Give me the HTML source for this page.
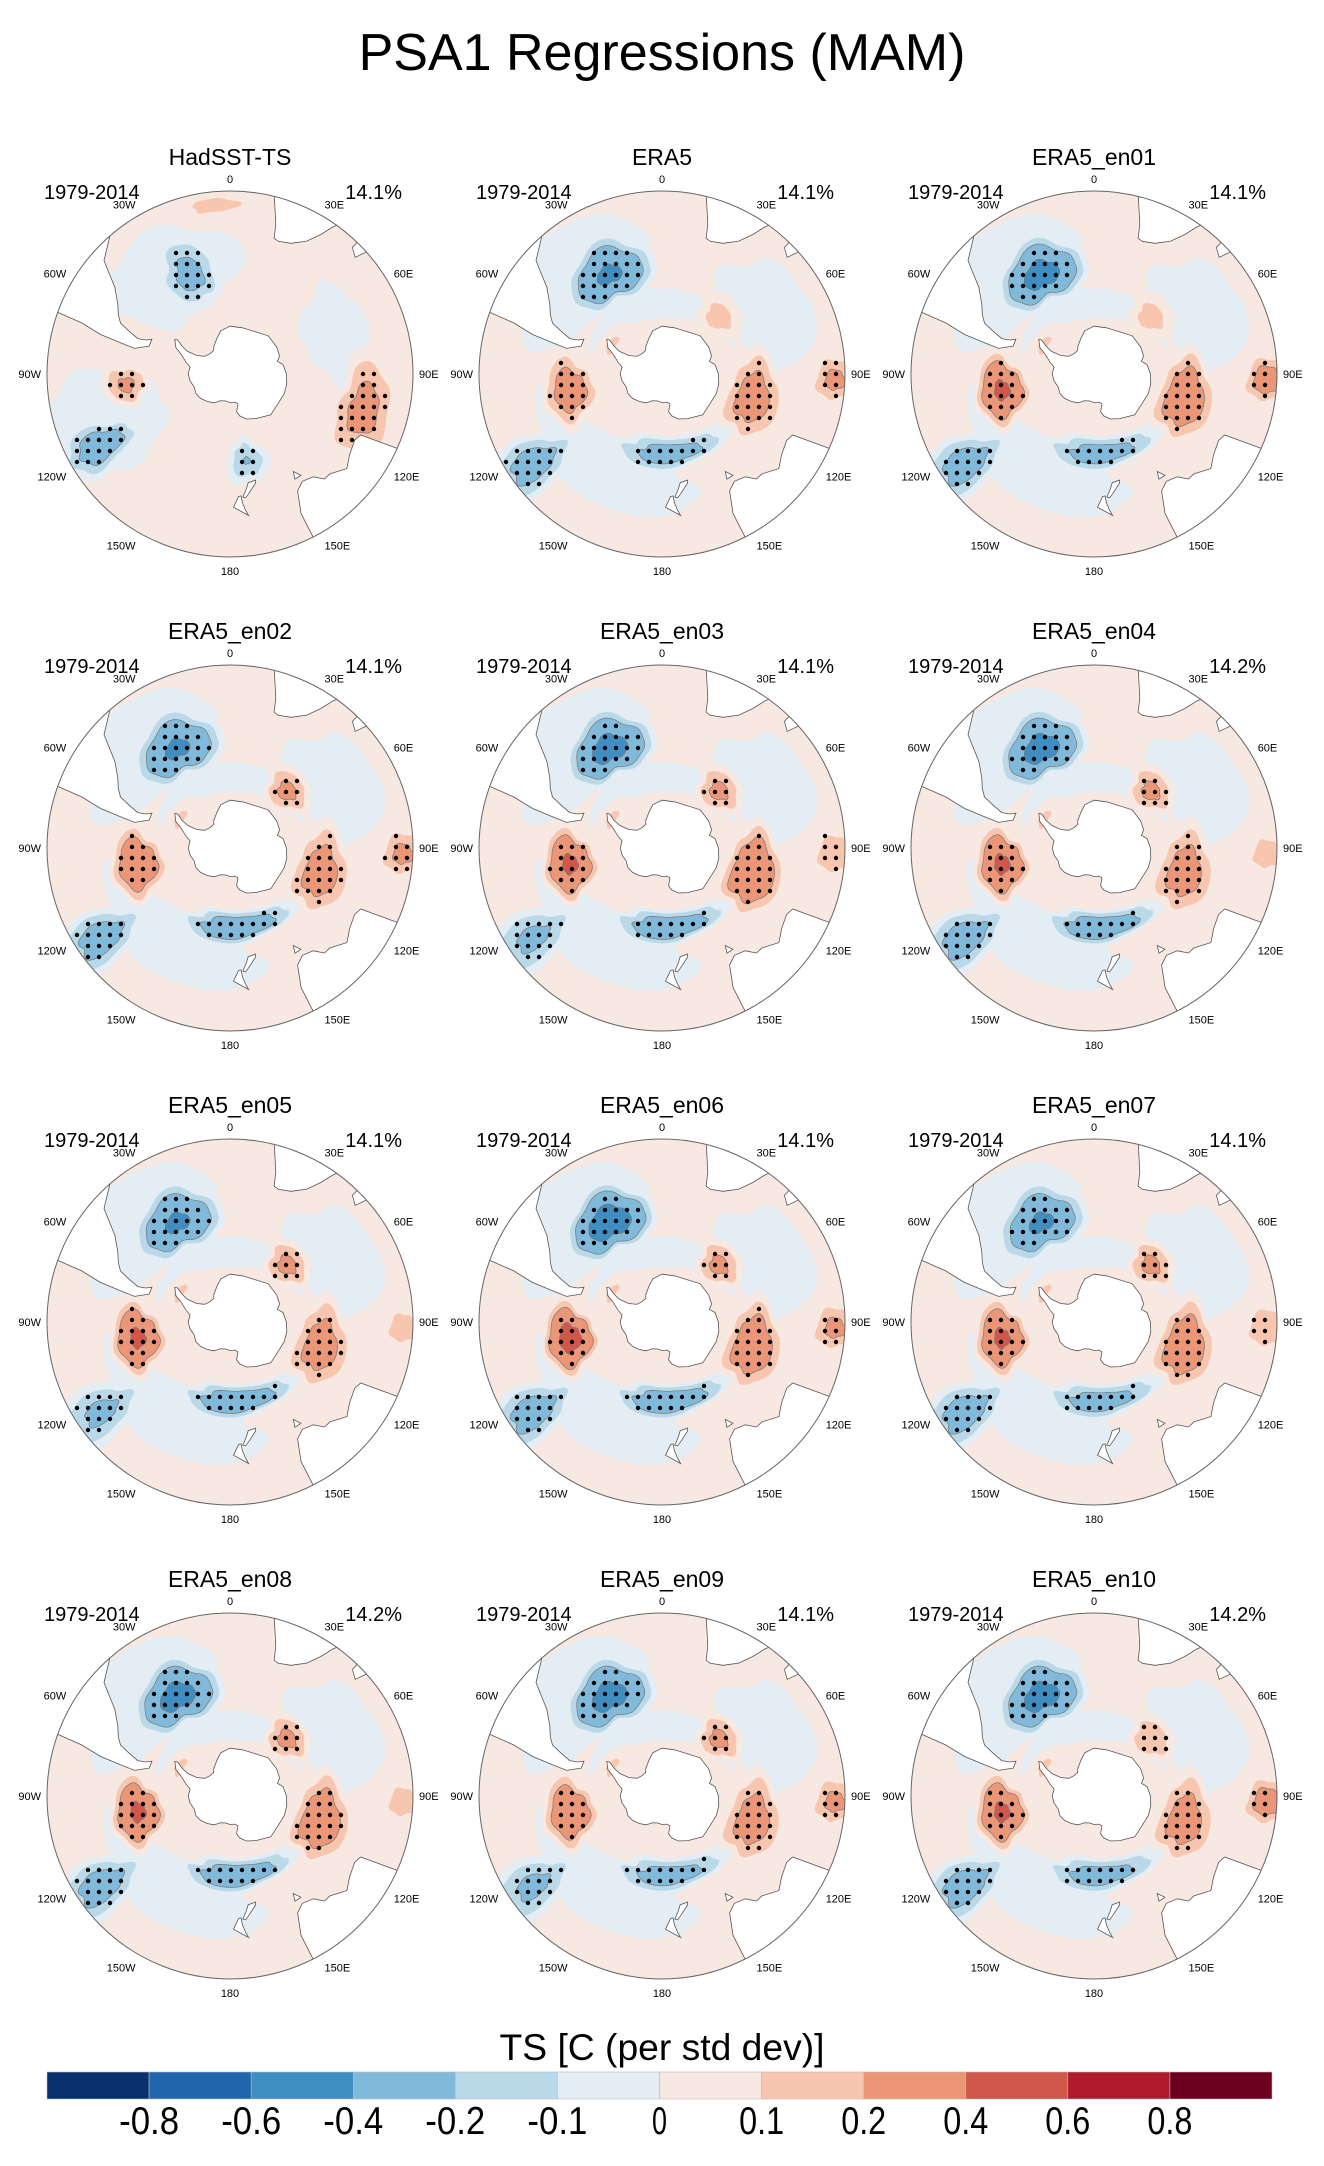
<!DOCTYPE html>
<html><head><meta charset="utf-8">
<style>
html,body{margin:0;padding:0;background:#fff;}
svg{display:block;font-family:"Liberation Sans",sans-serif;}
</style></head>
<body>
<svg id="fig" width="1324" height="2166" viewBox="0 0 1324 2166" xmlns="http://www.w3.org/2000/svg">
<text x="662" y="70" font-size="52" text-anchor="middle">PSA1 Regressions (MAM)</text>
<g id="panels"></g>
<g id="cbar"></g>
</svg>
<script>
// ---- data ----
const panelTitles = ["HadSST-TS","ERA5","ERA5_en01","ERA5_en02","ERA5_en03","ERA5_en04","ERA5_en05","ERA5_en06","ERA5_en07","ERA5_en08","ERA5_en09","ERA5_en10"];
const panelPeriods = ["1979-2014","1979-2014","1979-2014","1979-2014","1979-2014","1979-2014","1979-2014","1979-2014","1979-2014","1979-2014","1979-2014","1979-2014"];
const panelPercents = ["14.1%","14.1%","14.1%","14.1%","14.1%","14.2%","14.1%","14.1%","14.1%","14.2%","14.1%","14.2%"];
// HadSST anomaly features: lon, lat, lon-radius(deg), lat-radius(deg), value
const hadLon = [-30,-110,70,-5,-22,105,-119,-96,169];
const hadLat = [-45,-40,-45,-26,-47,-36,-33,-48,-54];
const hadRx  = [24,18,18,14,11,20,8,8,8];
const hadRy  = [17,22,12,4,14,11,14,9,9];
const hadVal = [-0.09,-0.07,-0.06,0.15,-0.27,0.27,-0.33,0.24,-0.21];
// ERA5-family features
const eraLon = [-40,-150,60,0,-60,-28,-100,105,175,-125,45,92];
const eraLat = [-40,-45,-42,-60,-66,-45,-52,-52,-57,-30,-57,-25];
const eraRx  = [28,34,22,34,12,18,14,18,24,9,10,8];
const eraRy  = [16,12,14,6,5,12,11,12,7,15,9,8];
// rows: ERA5, en01..en10 ; columns follow feature order above
const eraVal = [
 [-0.09,-0.08,-0.08,-0.06,0.12,-0.45,0.32,0.3,-0.3,-0.3,0.15,0.25],
 [-0.09,-0.08,-0.08,-0.06,0.12,-0.5,0.45,0.35,-0.3,-0.3,0.15,0.3],
 [-0.09,-0.08,-0.08,-0.06,0.12,-0.45,0.4,0.3,-0.35,-0.3,0.25,0.25],
 [-0.09,-0.08,-0.08,-0.06,0.12,-0.5,0.45,0.4,-0.35,-0.25,0.25,0.2],
 [-0.09,-0.08,-0.08,-0.06,0.12,-0.5,0.45,0.3,-0.35,-0.3,0.25,0.15],
 [-0.09,-0.08,-0.08,-0.06,0.12,-0.45,0.45,0.3,-0.35,-0.25,0.25,0.15],
 [-0.09,-0.08,-0.08,-0.06,0.12,-0.55,0.5,0.35,-0.35,-0.3,0.25,0.25],
 [-0.09,-0.08,-0.08,-0.06,0.12,-0.45,0.45,0.35,-0.3,-0.3,0.25,0.2],
 [-0.09,-0.08,-0.08,-0.06,0.12,-0.5,0.45,0.35,-0.35,-0.3,0.25,0.15],
 [-0.09,-0.08,-0.08,-0.06,0.12,-0.5,0.4,0.3,-0.3,-0.25,0.25,0.25],
 [-0.09,-0.08,-0.08,-0.06,0.12,-0.5,0.45,0.3,-0.3,-0.3,0.2,0.3]
];
const cbLevels = ["-0.8","-0.6","-0.4","-0.2","-0.1","0","0.1","0.2","0.4","0.6","0.8"];
const cbColors = ["#08306b","#2166ac","#3f8dc1","#80b9d9","#b9d9e9","#e4edf3","#f8e8e2","#f8c6ae","#eb9676","#d1574b","#b01a2c","#6b0020"];
const levelVals = [-0.8,-0.6,-0.4,-0.2,-0.1,0,0.1,0.2,0.4,0.6,0.8];

// ---- geography ----
const landPolys = {
 "south-america":[[-35,-5],[-41,-22],[-48,-26],[-53,-34],[-58,-38],[-62,-40],[-65,-42],[-67,-46],[-69,-50],[-68,-53],[-66,-55],[-71,-55],[-75,-50],[-74,-44],[-73,-37],[-71,-30],[-70,-18],[-80,-5]],
 "africa":[[10,-5],[12,-15],[14,-22],[17,-30],[18,-34.5],[20,-35],[25,-34],[30,-31],[33,-27],[35,-23],[40,-15],[42,-5]],
 "madagascar":[[44,-24],[47,-25.5],[50,-16],[49,-12],[44,-16]],
 "australia":[[114,-22],[115,-34],[118,-35],[124,-34],[129,-32],[135,-35],[138,-35],[141,-38],[146,-39],[150,-37],[153,-30],[153,-22],[145,-12],[120,-12]],
 "tasmania":[[145,-41],[148.3,-41],[147,-43.6]],
 "new-zealand-north":[[172.5,-34.5],[178.5,-37.7],[176,-41.3],[174.8,-41.4],[174.5,-39],[173.5,-36.5]],
 "new-zealand-south":[[174,-41],[172,-43.5],[170.5,-45.8],[166.5,-46.2],[167,-45],[171,-42],[172.8,-40.6]],
 "antarctica":[[0,-70],[15,-70],[30,-69.5],[45,-67.5],[60,-67.5],[70,-68],[75,-69.5],[80,-67.5],[90,-66.5],[100,-66],[110,-66],[120,-66.5],[135,-66],[150,-68.5],[160,-70],[167,-72],[170,-74],[165,-77],[170,-78],[180,-78],[-170,-78.5],[-160,-78],[-155,-77],[-150,-76],[-140,-75],[-130,-74],[-120,-73.5],[-110,-74],[-100,-73],[-90,-72.5],[-80,-73],[-75,-71],[-68,-68],[-64,-65],[-58,-63],[-57,-64],[-60,-67],[-62,-70],[-61,-74],[-55,-77],[-45,-78],[-35,-78],[-30,-76.5],[-20,-74],[-12,-71.5]]
};
const lonLabels = ["0","30E","60E","90E","120E","150E","180","150W","120W","90W","60W","30W"];

// ---- helpers ----
const NS="http://www.w3.org/2000/svg";
const R=183, T0=Math.tan(34*Math.PI/180);
const colX=[230,662,1094], rowY=[374,848,1322,1796];
const D=Math.PI/180;
function proj(lon,lat,cx,cy){
  const r=R*Math.tan((90+lat)/2*D)/T0;
  return [cx+r*Math.sin(lon*D), cy-r*Math.cos(lon*D)];
}
function mk(tag,attrs,parent){
  const e=document.createElementNS(NS,tag);
  for(const k in attrs) e.setAttribute(k,attrs[k]);
  if(parent) parent.appendChild(e);
  return e;
}
function colorFor(v){
  for(let i=0;i<levelVals.length;i++){ if(v<levelVals[i]) return cbColors[i]; }
  return cbColors[cbColors.length-1];
}
function ellipsePts(lon0,lat0,rx,ry,s,cx,cy){
  const pts=[];
  for(let t=0;t<60;t++){
    const a=t/60*2*Math.PI;
    const wob=1+0.09*Math.sin(3*a+lon0)+0.06*Math.cos(5*a+lat0)+0.04*Math.sin(7*a+lon0*0.3);
    const lat=lat0+ry*s*wob*Math.sin(a);
    const lon=lon0+rx*s*wob*Math.cos(a)/Math.cos(lat0*D);
    pts.push(proj(lon,lat,cx,cy));
  }
  return pts;
}
function inPoly(x,y,pts){
  let c=false;
  for(let i=0,j=pts.length-1;i<pts.length;j=i++){
    const xi=pts[i][0],yi=pts[i][1],xj=pts[j][0],yj=pts[j][1];
    if(((yi>y)!=(yj>y))&&(x<(xj-xi)*(y-yi)/(yj-yi)+xi)) c=!c;
  }
  return c;
}

const panelsG=document.getElementById('panels');
for(let p=0;p<12;p++){
  const cx=colX[p%3], cy=rowY[Math.floor(p/3)];
  let fl,fa,frx,fry,fv;
  if(p===0){fl=hadLon;fa=hadLat;frx=hadRx;fry=hadRy;fv=hadVal;}
  else{fl=eraLon;fa=eraLat;frx=eraRx;fry=eraRy;fv=eraVal[p-1];}
  const g=mk('g',{},panelsG);
  
  
  const t=mk('text',{x:cx,y:cy-209,'font-size':23,'text-anchor':'middle'},g);
  t.textContent=panelTitles[p];
  
  
  const t2=mk('text',{x:cx-186,y:cy-175,'font-size':20},g);
  t2.textContent=panelPeriods[p];
  
  
  const t3=mk('text',{x:cx+172,y:cy-175,'font-size':20,'text-anchor':'end'},g);
  t3.textContent=panelPercents[p];
  
  
  const cid='clip'+p;
  const cp=mk('clipPath',{id:cid},g);
  mk('circle',{cx:cx,cy:cy,r:R},cp);
  const mg=mk('g',{'clip-path':'url(#'+cid+')'},g);
  
  
  mk('circle',{cx:cx,cy:cy,r:R,fill:'#f8e8e2'},mg);
  // features
  for(let k=0;k<fl.length;k++){
    const v=fv[k], av=Math.abs(v), sg=v<0?-1:1;
    const thr=[0,0.1,0.2,0.4,0.6,0.8].filter(x=>x<av);
    thr.forEach(th=>{
      const s=Math.pow(1-th/av,0.6);
      const pts=ellipsePts(fl[k],fa[k],frx[k],fry[k],s,cx,cy);
      const col=colorFor(sg*(th+0.002));
      const e=mk('polygon',{points:pts.map(q=>q[0].toFixed(1)+','+q[1].toFixed(1)).join(' '),fill:col,stroke:th>=0.2?'#777':'none','stroke-width':0.7},mg);
      
      
    });
  }
  // land
  const landPx={};
  for(const name in landPolys){
    const pts=landPolys[name].map(q=>proj(q[0],q[1],cx,cy));
    landPx[name]=pts;
    const e=mk('polygon',{points:pts.map(q=>q[0].toFixed(1)+','+q[1].toFixed(1)).join(' '),fill:'#fff',stroke:'#555','stroke-width':0.8},mg);
    
    
  }
  // stippling
  const dg=mk('g',{fill:'#000'},mg);
  
  
  for(let k=0;k<fl.length;k++){
    const av=Math.abs(fv[k]); if(av<0.2) continue;
    const inner=ellipsePts(fl[k],fa[k],frx[k],fry[k],0.7,cx,cy);
    let minx=1e9,maxx=-1e9,miny=1e9,maxy=-1e9;
    inner.forEach(q=>{minx=Math.min(minx,q[0]);maxx=Math.max(maxx,q[0]);miny=Math.min(miny,q[1]);maxy=Math.max(maxy,q[1]);});
    for(let y=Math.ceil(miny/11)*11;y<=maxy;y+=11){
      for(let x=Math.ceil(minx/11)*11;x<=maxx;x+=11){
        if(!inPoly(x,y,inner)) continue;
        if((x-cx)**2+(y-cy)**2>(R-3)**2) continue;
        let onLand=false;
        for(const n in landPx){ if(inPoly(x,y,landPx[n])){onLand=true;break;} }
        if(onLand) continue;
        mk('circle',{cx:x,cy:y,r:2.2},dg);
      }
    }
  }
  const oc=mk('circle',{cx:cx,cy:cy,r:R,fill:'none',stroke:'#666','stroke-width':1},g);
  
  
  // lon labels
  for(let i=0;i<12;i++){
    const a=i*30*D, sn=Math.sin(a), cs=Math.cos(a);
    const rr=R+6;
    let x=cx+rr*sn, y=cy-rr*cs;
    let anchor='middle';
    if(sn>0.3) anchor='start'; else if(sn<-0.3) anchor='end';
    if(Math.abs(sn)<0.3){ y+= cs>0? -2 : 12; } else { y+= cs>0.3? -2 : (cs<-0.3? 12 : 4); }
    const l=mk('text',{x:x.toFixed(1),y:y.toFixed(1),'font-size':11,'text-anchor':anchor},g);
    l.textContent=lonLabels[i];
    
    
  }
}

// ---- colorbar ----
const cb=document.getElementById('cbar');
const cbX0=47, cbX1=1272, cbY=2072, cbH=27, bw=(cbX1-cbX0)/cbColors.length;
const ct=mk('text',{x:662,y:2060,'font-size':37,'text-anchor':'middle',textLength:325,lengthAdjust:'spacingAndGlyphs'},cb);
ct.textContent="TS [C (per std dev)]";


for(let i=0;i<cbColors.length;i++){
  const r=mk('rect',{x:(cbX0+i*bw).toFixed(1),y:cbY,width:bw.toFixed(1),height:cbH,fill:cbColors[i],stroke:'#bbb','stroke-width':0.6},cb);
  
  
}
for(let i=0;i<cbLevels.length;i++){
  const s=cbLevels[i];
  const w=s.length*15;
  const l=mk('text',{x:(cbX0+(i+1)*bw).toFixed(1),y:2134,'font-size':39,'text-anchor':'middle',textLength:w,lengthAdjust:'spacingAndGlyphs'},cb);
  l.textContent=s;
  
  
}
</script>
</body></html>
